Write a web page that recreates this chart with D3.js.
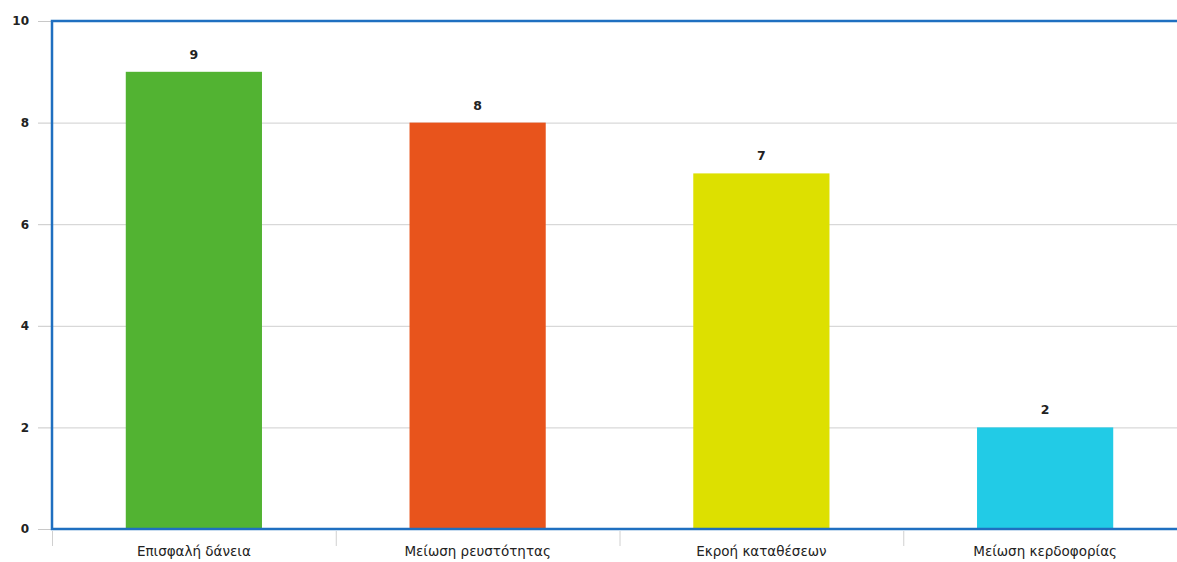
<!DOCTYPE html>
<html>
<head>
<meta charset="utf-8">
<script src="https://cdn.jsdelivr.net/npm/d3@7"></script>
<style>
  html, body { margin: 0; padding: 0; background: #fff; }
  svg { display: block; }
  text { font-family: "DejaVu Sans", Verdana, sans-serif; fill: #222; }
</style>
</head>
<body>
<svg id="chart" width="1177" height="562"></svg>
<script>
// Categories and their counts
const categories = ["Επισφαλή δάνεια", "Μείωση ρευστότητας", "Εκροή καταθέσεων", "Μείωση κερδοφορίας"];
const values = [9, 8, 7, 2];
const colors = ["#52b332", "#e8541c", "#dde000", "#22cbe6"];
const yTicks = [0, 2, 4, 6, 8, 10];

const svg = d3.select("#chart");
const plotLeft = 52, plotTop = 21, plotBottom = 529, plotRight = 1187;

const x = d3.scaleBand().domain(categories).range([plotLeft, plotRight]).paddingInner(0.52).paddingOuter(0.26);
const xBand = d3.scaleBand().domain(categories).range([plotLeft, plotRight]);
const y = d3.scaleLinear().domain([0, 10]).range([plotBottom, plotTop]);

// Horizontal gridlines
svg.append("g").selectAll("line")
  .data(yTicks.filter(d => d > 0 && d < 10))
  .join("line")
  .attr("x1", plotLeft).attr("x2", 1177)
  .attr("y1", d => y(d) + 0.5).attr("y2", d => y(d) + 0.5)
  .attr("stroke", "#cfcfcf").attr("stroke-width", 1);

// Y axis ticks and labels
const yAxis = svg.append("g").attr("transform", `translate(${plotLeft},0)`)
  .call(d3.axisLeft(y).tickValues(yTicks).tickSize(14).tickPadding(9).tickFormat(d3.format("d")));
yAxis.select(".domain").remove();
yAxis.selectAll(".tick line").attr("stroke", "#c8c8c8");
yAxis.selectAll(".tick text").style("font-size", "12px").style("font-weight", "bold").attr("fill", "#333");

// X axis category separators and labels
const xAxis = svg.append("g").attr("transform", `translate(0,${plotBottom + 2})`);
xAxis.selectAll("line.sep")
  .data(categories)
  .join("line")
  .attr("class", "sep")
  .attr("x1", d => xBand(d) + 0.5).attr("x2", d => xBand(d) + 0.5)
  .attr("y1", 0).attr("y2", 15)
  .attr("stroke", "#d0d0d0");
xAxis.selectAll("text")
  .data(categories)
  .join("text")
  .attr("x", d => xBand(d) + xBand.bandwidth() / 2)
  .attr("y", 25)
  .attr("text-anchor", "middle")
  .style("font-size", "13.5px")
  .text(d => d);

// Bars
svg.append("g").selectAll("rect")
  .data(categories)
  .join("rect")
  .attr("x", d => x(d))
  .attr("width", x.bandwidth())
  .attr("y", (d, i) => y(values[i]))
  .attr("height", (d, i) => y(0) - y(values[i]))
  .attr("fill", (d, i) => colors[i]);

// Value labels
svg.append("g").selectAll("text")
  .data(categories)
  .join("text")
  .attr("x", d => x(d) + x.bandwidth() / 2)
  .attr("y", (d, i) => y(values[i]) - 13)
  .attr("text-anchor", "middle")
  .style("font-size", "12.5px")
  .style("font-weight", "bold")
  .text((d, i) => values[i]);

// Plot frame: left, top and bottom edges
svg.append("path")
  .attr("d", `M${1177},${plotTop} H${plotLeft} V${plotBottom} H${1177}`)
  .attr("fill", "none")
  .attr("stroke", "#1f6fc0")
  .attr("stroke-width", 2.5);
</script>
</body>
</html>
